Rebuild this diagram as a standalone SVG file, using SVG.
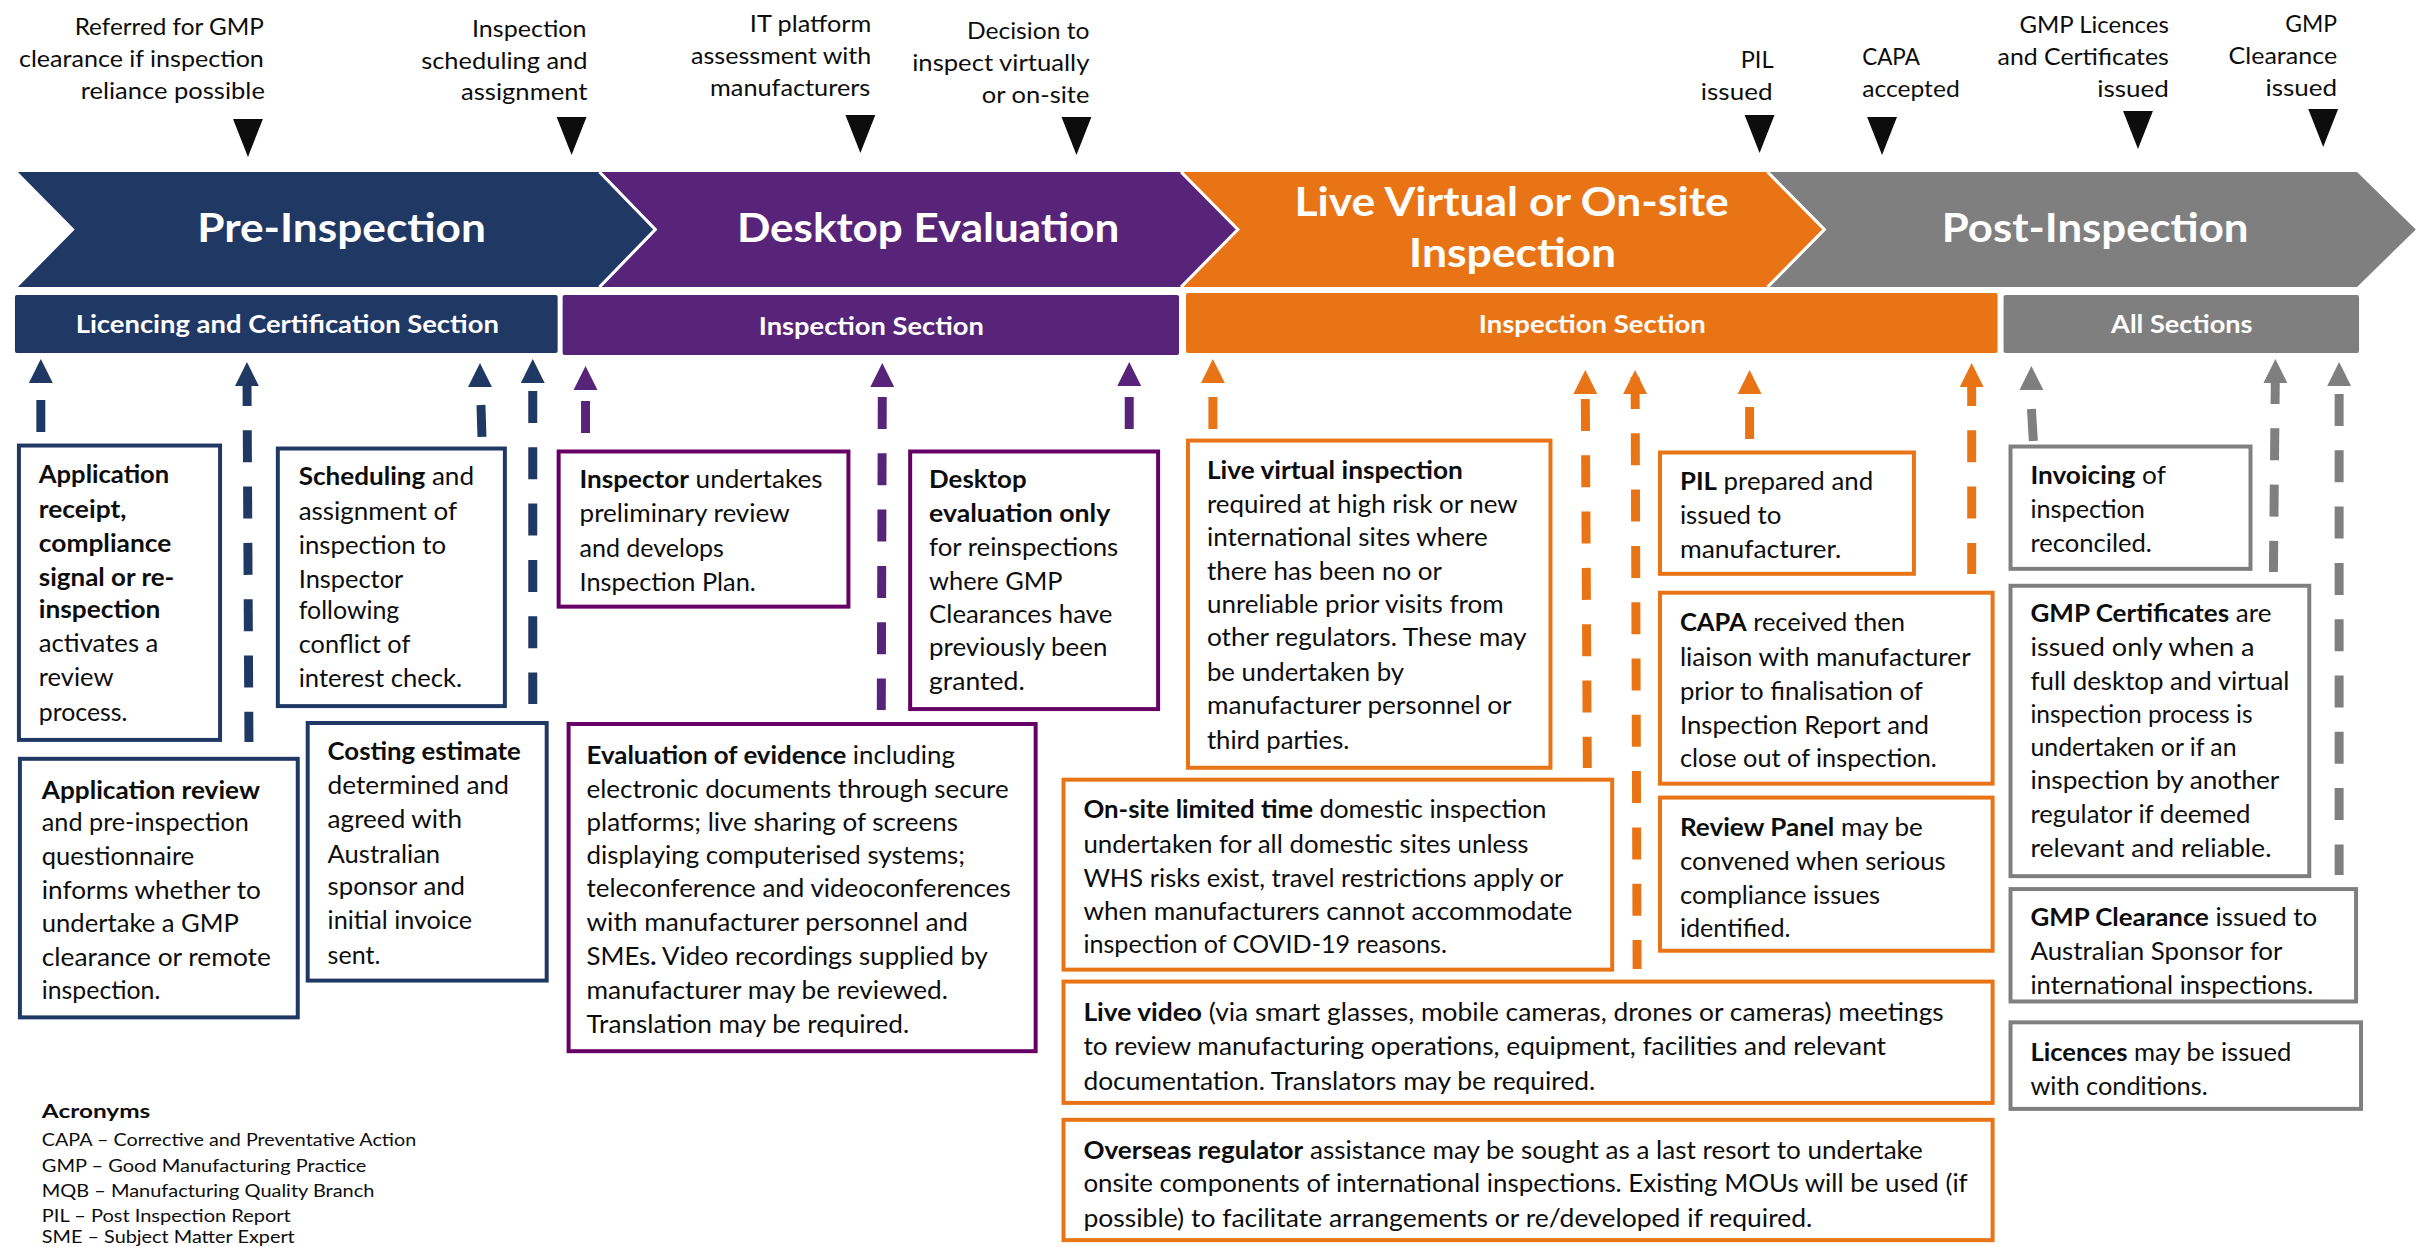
<svg xmlns="http://www.w3.org/2000/svg" width="2433" height="1247" viewBox="0 0 2433 1247">
<style>
text{font-family:"Lato","Carlito","Liberation Sans",sans-serif;fill:#0d0d0d;font-size:25px}
.b{font-weight:700}
.h{font-size:23px}
.c{font-size:40px;font-weight:700;fill:#fff}
.s{font-size:25px;font-weight:700;fill:#fff}
.a{font-size:17px}
.box{fill:#fff;stroke-width:4;stroke-linejoin:miter}
.navy{fill:#203864}.purple{fill:#582479}.orange{fill:#E97415}.gray{fill:#7F7F7F}
.bn{stroke:#203864}.bp{stroke:#660066}.bo{stroke:#E97415}.bg{stroke:#7F7F7F}
.tri{fill:#0d0d0d}
.d{stroke-width:9;stroke-dasharray:32 24.3;fill:none}
.ln{stroke:#203864}.lp{stroke:#582479}.lo{stroke:#E97415}.lg{stroke:#7F7F7F}
.sep{fill:none;stroke:#fff;stroke-width:3}
</style>
<defs>
<polygon id="up" points="0,0 12,24 -12,24"/>
<polygon id="down" points="-15,0 15,0 0,38"/>
</defs>
<g transform="scale(0.9958 1)">

<g id="timeline-labels">
<text class="h" x="75" y="35" textLength="190" lengthAdjust="spacingAndGlyphs">Referred for GMP</text>
<text class="h" x="19" y="67" textLength="246" lengthAdjust="spacingAndGlyphs">clearance if inspection</text>
<text class="h" x="81" y="99" textLength="185" lengthAdjust="spacingAndGlyphs">reliance possible</text>
<text class="h" x="474" y="37" textLength="115" lengthAdjust="spacingAndGlyphs">Inspection</text>
<text class="h" x="423" y="69" textLength="167" lengthAdjust="spacingAndGlyphs">scheduling and</text>
<text class="h" x="463" y="100" textLength="127" lengthAdjust="spacingAndGlyphs">assignment</text>
<text class="h" x="753" y="32" textLength="122" lengthAdjust="spacingAndGlyphs">IT platform</text>
<text class="h" x="694" y="64" textLength="181" lengthAdjust="spacingAndGlyphs">assessment with</text>
<text class="h" x="713" y="96" textLength="161" lengthAdjust="spacingAndGlyphs">manufacturers</text>
<text class="h" x="971" y="39" textLength="123" lengthAdjust="spacingAndGlyphs">Decision to</text>
<text class="h" x="916" y="71" textLength="178" lengthAdjust="spacingAndGlyphs">inspect virtually</text>
<text class="h" x="986" y="103" textLength="108" lengthAdjust="spacingAndGlyphs">or on-site</text>
<text class="h" x="1748" y="68" textLength="33" lengthAdjust="spacingAndGlyphs">PIL</text>
<text class="h" x="1708" y="100" textLength="72" lengthAdjust="spacingAndGlyphs">issued</text>
<text class="h" x="1870" y="65" textLength="58" lengthAdjust="spacingAndGlyphs">CAPA</text>
<text class="h" x="1870" y="97" textLength="98" lengthAdjust="spacingAndGlyphs">accepted</text>
<text class="h" x="2028" y="33" textLength="150" lengthAdjust="spacingAndGlyphs">GMP Licences</text>
<text class="h" x="2006" y="65" textLength="172" lengthAdjust="spacingAndGlyphs">and Certificates</text>
<text class="h" x="2106" y="97" textLength="72" lengthAdjust="spacingAndGlyphs">issued</text>
<text class="h" x="2295" y="32" textLength="52" lengthAdjust="spacingAndGlyphs">GMP</text>
<text class="h" x="2238" y="64" textLength="109" lengthAdjust="spacingAndGlyphs">Clearance</text>
<text class="h" x="2275" y="96" textLength="72" lengthAdjust="spacingAndGlyphs">issued</text>
<use href="#down" class="tri" x="249" y="119"/>
<use href="#down" class="tri" x="574" y="117"/>
<use href="#down" class="tri" x="864" y="115"/>
<use href="#down" class="tri" x="1081" y="117"/>
<use href="#down" class="tri" x="1767" y="115"/>
<use href="#down" class="tri" x="1890" y="117"/>
<use href="#down" class="tri" x="2147" y="111"/>
<use href="#down" class="tri" x="2333" y="109"/>
</g>

<g id="phase-post">
<polygon class="gray" points="1777,172 2367,172 2426,229.5 2367,287 1777,287 1834,229.5"/>
<text class="c" x="1950" y="242" textLength="308" lengthAdjust="spacingAndGlyphs">Post-Inspection</text>
</g>
<g id="phase-live">
<polygon class="orange" points="1188,172 1775,172 1832,229.5 1775,287 1188,287 1245,229.5"/>
<polyline class="sep" points="1775,172 1832,229.5 1775,287"/>
<text class="c" x="1300" y="216" textLength="436" lengthAdjust="spacingAndGlyphs">Live Virtual or On-site</text>
<text class="c" x="1415" y="267" textLength="208" lengthAdjust="spacingAndGlyphs">Inspection</text>
</g>
<g id="phase-desktop">
<polygon class="purple" points="604,172 1186,172 1243,229.5 1186,287 604,287 660,229.5"/>
<polyline class="sep" points="1186,172 1243,229.5 1186,287"/>
<text class="c" x="740" y="242" textLength="384" lengthAdjust="spacingAndGlyphs">Desktop Evaluation</text>
</g>
<g id="phase-pre">
<polygon class="navy" points="18,172 602,172 658,229.5 602,287 18,287 75,229.5"/>
<polyline class="sep" points="602,172 658,229.5 602,287"/>
<text class="c" x="198" y="242" textLength="290" lengthAdjust="spacingAndGlyphs">Pre-Inspection</text>
</g>

<g id="section-licencing">
<rect class="navy" x="15" y="295" width="545" height="58" rx="2"/>
<text class="s" x="76" y="333" textLength="425" lengthAdjust="spacingAndGlyphs">Licencing and Certification Section</text>
</g>
<g id="section-inspection-1">
<rect class="purple" x="565" y="295" width="619" height="60" rx="2"/>
<text class="s" x="762" y="335" textLength="226" lengthAdjust="spacingAndGlyphs">Inspection Section</text>
</g>
<g id="section-inspection-2">
<rect class="orange" x="1191" y="293" width="815" height="60" rx="2"/>
<text class="s" x="1485" y="333" textLength="228" lengthAdjust="spacingAndGlyphs">Inspection Section</text>
</g>
<g id="section-all">
<rect class="gray" x="2012" y="295" width="357" height="58" rx="2"/>
<text class="s" x="2120" y="333" textLength="142" lengthAdjust="spacingAndGlyphs">All Sections</text>
</g>

<g id="connectors">
<use href="#up" class="navy" x="41" y="359"/><line class="d ln" x1="41" y1="400" x2="41" y2="432"/>
<use href="#up" class="navy" x="248" y="362"/><line class="d ln" x1="248" y1="374" x2="250" y2="742"/>
<use href="#up" class="navy" x="482" y="363"/><line class="d ln" x1="483" y1="405" x2="484" y2="437"/>
<use href="#up" class="navy" x="535" y="359"/><line class="d ln" x1="535" y1="391" x2="535" y2="704"/>
<use href="#up" class="purple" x="588" y="366"/><line class="d lp" x1="588" y1="401" x2="588" y2="433"/>
<use href="#up" class="purple" x="886" y="363"/><line class="d lp" x1="886" y1="397" x2="885" y2="710"/>
<use href="#up" class="purple" x="1134" y="362"/><line class="d lp" x1="1134" y1="397" x2="1134" y2="429"/>
<use href="#up" class="orange" x="1218" y="359"/><line class="d lo" x1="1218" y1="397" x2="1218" y2="429"/>
<use href="#up" class="orange" x="1592" y="370"/><line class="d lo" x1="1592" y1="399" x2="1594" y2="768"/>
<use href="#up" class="orange" x="1642" y="370"/><line class="d lo" x1="1642" y1="377" x2="1644" y2="969"/>
<use href="#up" class="orange" x="1757" y="370"/><line class="d lo" x1="1757" y1="407" x2="1757" y2="440"/>
<use href="#up" class="orange" x="1980" y="363"/><line class="d lo" x1="1980" y1="374" x2="1980" y2="574"/>
<use href="#up" class="gray" x="2040" y="366"/><line class="d lg" x1="2040" y1="409" x2="2042" y2="442"/>
<use href="#up" class="gray" x="2285" y="359"/><line class="d lg" x1="2285" y1="372" x2="2283" y2="572"/>
<use href="#up" class="gray" x="2349" y="362"/><line class="d lg" x1="2349" y1="394" x2="2349" y2="875"/>
</g>

<g transform="scale(1 0.9945)">
<g id="box-application-receipt">
<rect class="box bn" x="19" y="448" width="202" height="296"/>
<text x="39" y="486" textLength="131" lengthAdjust="spacingAndGlyphs" class="b">Application</text>
<text x="39" y="521" textLength="88" lengthAdjust="spacingAndGlyphs" class="b">receipt,</text>
<text x="39" y="555" textLength="133" lengthAdjust="spacingAndGlyphs" class="b">compliance</text>
<text x="39" y="589" textLength="136" lengthAdjust="spacingAndGlyphs" class="b">signal or re-</text>
<text x="39" y="621" textLength="122" lengthAdjust="spacingAndGlyphs" class="b">inspection</text>
<text x="39" y="656" textLength="120" lengthAdjust="spacingAndGlyphs">activates a</text>
<text x="39" y="690" textLength="75" lengthAdjust="spacingAndGlyphs">review</text>
<text x="39" y="725" textLength="89" lengthAdjust="spacingAndGlyphs">process.</text>
</g>
<g id="box-scheduling">
<rect class="box bn" x="279" y="451" width="228" height="259"/>
<text x="300" y="488" textLength="176" lengthAdjust="spacingAndGlyphs"><tspan class="b">Scheduling</tspan> and</text>
<text x="300" y="523" textLength="159" lengthAdjust="spacingAndGlyphs">assignment of</text>
<text x="300" y="557" textLength="148" lengthAdjust="spacingAndGlyphs">inspection to</text>
<text x="300" y="591" textLength="105" lengthAdjust="spacingAndGlyphs">Inspector</text>
<text x="300" y="622" textLength="101" lengthAdjust="spacingAndGlyphs">following</text>
<text x="300" y="657" textLength="112" lengthAdjust="spacingAndGlyphs">conflict of</text>
<text x="300" y="691" textLength="164" lengthAdjust="spacingAndGlyphs">interest check.</text>
</g>
<g id="box-application-review">
<rect class="box bn" x="20" y="763" width="279" height="260"/>
<text x="42" y="803" textLength="219" lengthAdjust="spacingAndGlyphs" class="b">Application review</text>
<text x="42" y="836" textLength="208" lengthAdjust="spacingAndGlyphs">and pre-inspection</text>
<text x="42" y="870" textLength="153" lengthAdjust="spacingAndGlyphs">questionnaire</text>
<text x="42" y="904" textLength="220" lengthAdjust="spacingAndGlyphs">informs whether to</text>
<text x="42" y="937" textLength="198" lengthAdjust="spacingAndGlyphs">undertake a GMP</text>
<text x="42" y="971" textLength="230" lengthAdjust="spacingAndGlyphs">clearance or remote</text>
<text x="42" y="1005" textLength="119" lengthAdjust="spacingAndGlyphs">inspection.</text>
</g>
<g id="box-costing">
<rect class="box bn" x="309" y="727" width="240" height="259"/>
<text x="329" y="764" textLength="194" lengthAdjust="spacingAndGlyphs" class="b">Costing estimate</text>
<text x="329" y="798" textLength="182" lengthAdjust="spacingAndGlyphs">determined and</text>
<text x="329" y="833" textLength="135" lengthAdjust="spacingAndGlyphs">agreed with</text>
<text x="329" y="868" textLength="113" lengthAdjust="spacingAndGlyphs">Australian</text>
<text x="329" y="900" textLength="138" lengthAdjust="spacingAndGlyphs">sponsor and</text>
<text x="329" y="934" textLength="145" lengthAdjust="spacingAndGlyphs">initial invoice</text>
<text x="329" y="969" textLength="53" lengthAdjust="spacingAndGlyphs">sent.</text>
</g>

<g id="box-inspector">
<rect class="box bp" x="561" y="454" width="291" height="156"/>
<text x="582" y="491" textLength="244" lengthAdjust="spacingAndGlyphs"><tspan class="b">Inspector</tspan> undertakes</text>
<text x="582" y="525" textLength="211" lengthAdjust="spacingAndGlyphs">preliminary review</text>
<text x="582" y="560" textLength="145" lengthAdjust="spacingAndGlyphs">and develops</text>
<text x="582" y="594" textLength="177" lengthAdjust="spacingAndGlyphs">Inspection Plan.</text>
</g>
<g id="box-desktop-only">
<rect class="box bp" x="914" y="454" width="249" height="259"/>
<text x="933" y="491" textLength="98" lengthAdjust="spacingAndGlyphs" class="b">Desktop</text>
<text x="933" y="525" textLength="182" lengthAdjust="spacingAndGlyphs" class="b">evaluation only</text>
<text x="933" y="559" textLength="190" lengthAdjust="spacingAndGlyphs">for reinspections</text>
<text x="933" y="593" textLength="134" lengthAdjust="spacingAndGlyphs">where GMP</text>
<text x="933" y="626" textLength="184" lengthAdjust="spacingAndGlyphs">Clearances have</text>
<text x="933" y="660" textLength="179" lengthAdjust="spacingAndGlyphs">previously been</text>
<text x="933" y="694" textLength="96" lengthAdjust="spacingAndGlyphs">granted.</text>
</g>
<g id="box-evaluation">
<rect class="box bp" x="571" y="728" width="469" height="329"/>
<text x="589" y="768" textLength="370" lengthAdjust="spacingAndGlyphs"><tspan class="b">Evaluation of evidence</tspan> including</text>
<text x="589" y="802" textLength="424" lengthAdjust="spacingAndGlyphs">electronic documents through secure</text>
<text x="589" y="836" textLength="373" lengthAdjust="spacingAndGlyphs">platforms; live sharing of screens</text>
<text x="589" y="869" textLength="380" lengthAdjust="spacingAndGlyphs">displaying computerised systems;</text>
<text x="589" y="902" textLength="426" lengthAdjust="spacingAndGlyphs">teleconference and videoconferences</text>
<text x="589" y="936" textLength="383" lengthAdjust="spacingAndGlyphs">with manufacturer personnel and</text>
<text x="589" y="970" textLength="403" lengthAdjust="spacingAndGlyphs">SMEs<tspan class="b">.</tspan> Video recordings supplied by</text>
<text x="589" y="1005" textLength="363" lengthAdjust="spacingAndGlyphs">manufacturer may be reviewed.</text>
<text x="589" y="1039" textLength="324" lengthAdjust="spacingAndGlyphs">Translation may be required.</text>
</g>

<g id="box-live-virtual">
<rect class="box bo" x="1193" y="443" width="364" height="329"/>
<text x="1212" y="482" textLength="257" lengthAdjust="spacingAndGlyphs" class="b">Live virtual inspection</text>
<text x="1212" y="516" textLength="312" lengthAdjust="spacingAndGlyphs">required at high risk or new</text>
<text x="1212" y="549" textLength="282" lengthAdjust="spacingAndGlyphs">international sites where</text>
<text x="1212" y="583" textLength="236" lengthAdjust="spacingAndGlyphs">there has been no or</text>
<text x="1212" y="616" textLength="298" lengthAdjust="spacingAndGlyphs">unreliable prior visits from</text>
<text x="1212" y="650" textLength="321" lengthAdjust="spacingAndGlyphs">other regulators. These may</text>
<text x="1212" y="685" textLength="198" lengthAdjust="spacingAndGlyphs">be undertaken by</text>
<text x="1212" y="718" textLength="306" lengthAdjust="spacingAndGlyphs">manufacturer personnel or</text>
<text x="1212" y="753" textLength="143" lengthAdjust="spacingAndGlyphs">third parties.</text>
</g>
<g id="box-onsite">
<rect class="box bo" x="1068" y="784" width="551" height="191"/>
<text x="1088" y="823" textLength="465" lengthAdjust="spacingAndGlyphs"><tspan class="b">On-site limited time</tspan> domestic inspection</text>
<text x="1088" y="858" textLength="447" lengthAdjust="spacingAndGlyphs">undertaken for all domestic sites unless</text>
<text x="1088" y="892" textLength="482" lengthAdjust="spacingAndGlyphs">WHS risks exist, travel restrictions apply or</text>
<text x="1088" y="925" textLength="491" lengthAdjust="spacingAndGlyphs">when manufacturers cannot accommodate</text>
<text x="1088" y="958" textLength="365" lengthAdjust="spacingAndGlyphs">inspection of COVID-19 reasons.</text>
</g>
<g id="box-pil">
<rect class="box bo" x="1667" y="455" width="255" height="122"/>
<text x="1687" y="493" textLength="194" lengthAdjust="spacingAndGlyphs"><tspan class="b">PIL</tspan> prepared and</text>
<text x="1687" y="527" textLength="102" lengthAdjust="spacingAndGlyphs">issued to</text>
<text x="1687" y="561" textLength="162" lengthAdjust="spacingAndGlyphs">manufacturer.</text>
</g>
<g id="box-capa">
<rect class="box bo" x="1667" y="596" width="334" height="192"/>
<text x="1687" y="635" textLength="226" lengthAdjust="spacingAndGlyphs"><tspan class="b">CAPA</tspan> received then</text>
<text x="1687" y="670" textLength="292" lengthAdjust="spacingAndGlyphs">liaison with manufacturer</text>
<text x="1687" y="704" textLength="244" lengthAdjust="spacingAndGlyphs">prior to finalisation of</text>
<text x="1687" y="738" textLength="250" lengthAdjust="spacingAndGlyphs">Inspection Report and</text>
<text x="1687" y="771" textLength="258" lengthAdjust="spacingAndGlyphs">close out of inspection.</text>
</g>
<g id="box-review-panel">
<rect class="box bo" x="1667" y="802" width="334" height="154"/>
<text x="1687" y="841" textLength="244" lengthAdjust="spacingAndGlyphs"><tspan class="b">Review Panel</tspan> may be</text>
<text x="1687" y="875" textLength="267" lengthAdjust="spacingAndGlyphs">convened when serious</text>
<text x="1687" y="909" textLength="201" lengthAdjust="spacingAndGlyphs">compliance issues</text>
<text x="1687" y="942" textLength="111" lengthAdjust="spacingAndGlyphs">identified.</text>
</g>
<g id="box-live-video">
<rect class="box bo" x="1068" y="987" width="933" height="122"/>
<text x="1088" y="1027" textLength="864" lengthAdjust="spacingAndGlyphs"><tspan class="b">Live video</tspan> (via smart glasses, mobile cameras, drones or cameras) meetings</text>
<text x="1088" y="1061" textLength="806" lengthAdjust="spacingAndGlyphs">to review manufacturing operations, equipment, facilities and relevant</text>
<text x="1088" y="1096" textLength="514" lengthAdjust="spacingAndGlyphs">documentation. Translators may be required.</text>
</g>
<g id="box-overseas">
<rect class="box bo" x="1068" y="1126" width="933" height="121"/>
<text x="1088" y="1165" textLength="843" lengthAdjust="spacingAndGlyphs"><tspan class="b">Overseas regulator</tspan> assistance may be sought as a last resort to undertake</text>
<text x="1088" y="1199" textLength="888" lengthAdjust="spacingAndGlyphs">onsite components of international inspections. Existing MOUs will be used (if</text>
<text x="1088" y="1234" textLength="732" lengthAdjust="spacingAndGlyphs">possible) to facilitate arrangements or re/developed if required.</text>
</g>

<g id="box-invoicing">
<rect class="box bg" x="2019" y="449" width="241" height="123"/>
<text x="2039" y="487" textLength="136" lengthAdjust="spacingAndGlyphs"><tspan class="b">Invoicing</tspan> of</text>
<text x="2039" y="521" textLength="115" lengthAdjust="spacingAndGlyphs">inspection</text>
<text x="2039" y="555" textLength="122" lengthAdjust="spacingAndGlyphs">reconciled.</text>
</g>
<g id="box-certificates">
<rect class="box bg" x="2019" y="589" width="300" height="292"/>
<text x="2039" y="625" textLength="242" lengthAdjust="spacingAndGlyphs"><tspan class="b">GMP Certificates</tspan> are</text>
<text x="2039" y="660" textLength="225" lengthAdjust="spacingAndGlyphs">issued only when a</text>
<text x="2039" y="694" textLength="260" lengthAdjust="spacingAndGlyphs">full desktop and virtual</text>
<text x="2039" y="727" textLength="223" lengthAdjust="spacingAndGlyphs">inspection process is</text>
<text x="2039" y="760" textLength="207" lengthAdjust="spacingAndGlyphs">undertaken or if an</text>
<text x="2039" y="793" textLength="250" lengthAdjust="spacingAndGlyphs">inspection by another</text>
<text x="2039" y="828" textLength="221" lengthAdjust="spacingAndGlyphs">regulator if deemed</text>
<text x="2039" y="862" textLength="242" lengthAdjust="spacingAndGlyphs">relevant and reliable.</text>
</g>
<g id="box-clearance">
<rect class="box bg" x="2019" y="894" width="347" height="113"/>
<text x="2039" y="931" textLength="288" lengthAdjust="spacingAndGlyphs"><tspan class="b">GMP Clearance</tspan> issued to</text>
<text x="2039" y="965" textLength="253" lengthAdjust="spacingAndGlyphs">Australian Sponsor for</text>
<text x="2039" y="1000" textLength="284" lengthAdjust="spacingAndGlyphs">international inspections.</text>
</g>
<g id="box-licences">
<rect class="box bg" x="2019" y="1028" width="352" height="87"/>
<text x="2039" y="1067" textLength="262" lengthAdjust="spacingAndGlyphs"><tspan class="b">Licences</tspan> may be issued</text>
<text x="2039" y="1101" textLength="178" lengthAdjust="spacingAndGlyphs">with conditions.</text>
</g>

<g id="acronyms">
<text class="b" x="42" y="1124" style="font-size:20px" textLength="109" lengthAdjust="spacingAndGlyphs">Acronyms</text>
<text class="a" x="42" y="1152" textLength="376" lengthAdjust="spacingAndGlyphs">CAPA – Corrective and Preventative Action</text>
<text class="a" x="42" y="1178" textLength="326" lengthAdjust="spacingAndGlyphs">GMP – Good Manufacturing Practice</text>
<text class="a" x="42" y="1204" textLength="334" lengthAdjust="spacingAndGlyphs">MQB – Manufacturing Quality Branch</text>
<text class="a" x="42" y="1229" textLength="250" lengthAdjust="spacingAndGlyphs">PIL – Post Inspection Report</text>
<text class="a" x="42" y="1250" textLength="254" lengthAdjust="spacingAndGlyphs">SME – Subject Matter Expert</text>
</g>
</g>
</g>
</svg>
